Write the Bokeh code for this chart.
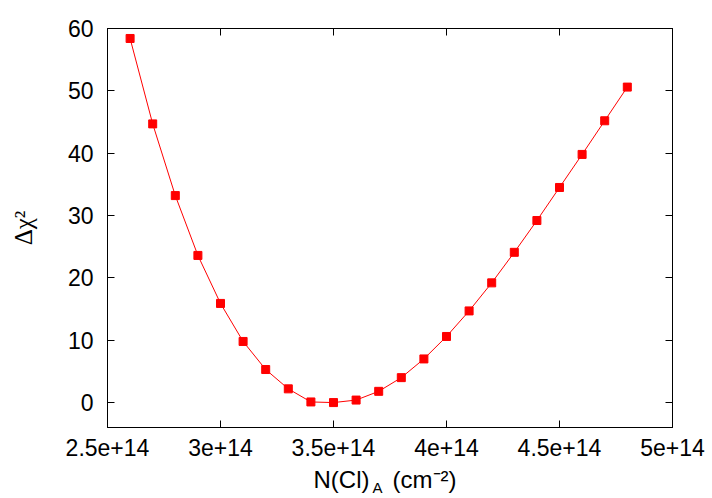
from bokeh.plotting import figure
from bokeh.models import Range1d, LinearAxis, FixedTicker, CustomJSTickFormatter
from bokeh.embed import file_html
from bokeh.resources import INLINE

# Data
column_density = [2.6e14, 2.7e14, 2.8e14, 2.9e14, 3.0e14, 3.1e14, 3.2e14, 3.3e14,
                  3.4e14, 3.5e14, 3.6e14, 3.7e14, 3.8e14, 3.9e14, 4.0e14, 4.1e14,
                  4.2e14, 4.3e14, 4.4e14, 4.5e14, 4.6e14, 4.7e14, 4.8e14]
delta_chi2 = [58.4, 44.7, 33.2, 23.6, 15.9, 9.8, 5.3, 2.2,
              0.1, 0.0, 0.4, 1.8, 4.0, 7.0, 10.6, 14.7,
              19.2, 24.1, 29.2, 34.5, 39.8, 45.2, 50.6]
x_ticks = [2.5e14, 3.0e14, 3.5e14, 4.0e14, 4.5e14, 5.0e14]
x_tick_labels = ["2.5e+14", "3e+14", "3.5e+14", "4e+14", "4.5e+14", "5e+14"]
y_ticks = [0, 10, 20, 30, 40, 50, 60]
y_title = "\u0394\u03c7\u00b2"
x_title_parts = ["N(Cl)", "(cm\u207b\u00b2)"]
x_title_sub = "A"
X0, X1 = 2.5e14, 5.0e14
Y0, Y1 = -4, 60

FONT = "Liberation Sans"
FS = "23px"

W, H = 712, 498
FL, FR, FT, FB = 107, 672, 28, 427   # frame edges in page pixels

p = figure(width=W, height=H, output_backend="svg", toolbar_location=None,
           x_range=Range1d(X0, X1), y_range=Range1d(Y0, Y1),
           min_border_left=FL, min_border_right=W - FR, min_border_top=FT,
           min_border_bottom=H - FB)
p.background_fill_color = "white"
p.border_fill_color = "white"
p.outline_line_color = "black"
p.outline_line_width = 1
p.xgrid.visible = False
p.ygrid.visible = False

def style_axis(ax, ticks, show_labels):
    ax.ticker = FixedTicker(ticks=ticks)
    ax.major_tick_in = 7
    ax.major_tick_out = 0
    ax.minor_tick_line_color = None
    ax.axis_line_color = "black"
    ax.major_tick_line_color = "black"
    ax.major_label_text_font = FONT
    ax.major_label_text_font_size = FS
    ax.major_label_text_color = "black"
    if not show_labels:
        ax.formatter = CustomJSTickFormatter(code="return ''")
        ax.major_label_text_font_size = "1px"
        ax.major_label_standoff = 0

def px_x(px):
    """Page-pixel x position -> data x (for placing title pieces)."""
    return X0 + (px - FL) * (X1 - X0) / (FR - FL)

xa = p.xaxis[0]
style_axis(xa, x_ticks, True)
xa.major_label_overrides = {t: s for t, s in zip(x_ticks, x_tick_labels)}
xa.major_label_standoff = 11

ya = p.yaxis[0]
style_axis(ya, y_ticks, True)
ya.major_label_standoff = 14
ya.axis_label = y_title
ya.axis_label_text_font = "Liberation Serif"
ya.axis_label_text_font_style = "normal"
ya.axis_label_text_font_size = "25px"
ya.axis_label_text_color = "black"
ya.axis_label_standoff = 28

top = LinearAxis()
style_axis(top, x_ticks, False)
p.add_layout(top, "above")
right = LinearAxis()
style_axis(right, y_ticks, False)
p.add_layout(right, "right")

# x-axis title built from text-only axes below the main axis
def text_axis(positions, texts, size, standoff):
    ax = LinearAxis(ticker=FixedTicker(ticks=positions))
    ax.major_label_overrides = {t: s for t, s in zip(positions, texts)}
    ax.axis_line_color = None
    ax.major_tick_line_color = None
    ax.minor_tick_line_color = None
    ax.major_tick_in = 0
    ax.major_tick_out = 0
    ax.major_label_text_font = FONT
    ax.major_label_text_font_size = size
    ax.major_label_text_color = "black"
    ax.major_label_standoff = standoff
    p.add_layout(ax, "below")
    return ax

text_axis([px_x(341), px_x(424)], x_title_parts, "24px", 7)
text_axis([px_x(377)], [x_title_sub], "15px", -17)

p.line(column_density, delta_chi2, line_color="#ff0000", line_width=1)
p.scatter(column_density, delta_chi2, marker="square", size=8,
          fill_color="#ff0000", line_color="#ff0000")

open("out.html", "w").write(file_html(p, INLINE))
